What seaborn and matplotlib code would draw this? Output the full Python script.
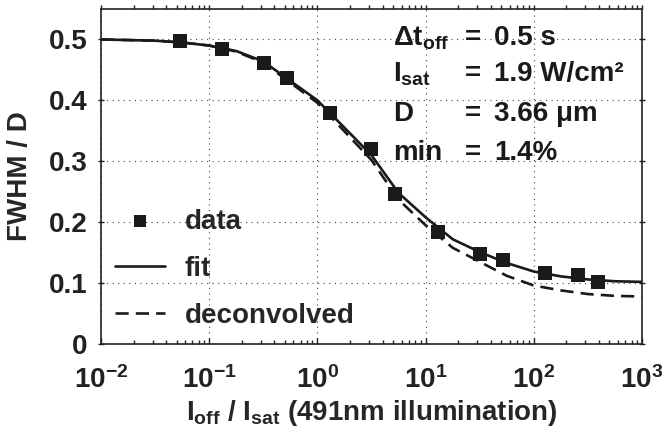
import numpy as np
import pandas as pd
import matplotlib
matplotlib.use("Agg")
import matplotlib.pyplot as plt
from matplotlib.ticker import FuncFormatter, LogLocator
import seaborn as sns

# measured points (I_off / I_sat, FWHM / D)
data_x = [0.054, 0.13, 0.32, 0.52, 1.31, 3.16, 5.2, 13, 32, 52, 128, 257, 390]
data_y = [0.498, 0.484, 0.462, 0.436, 0.380, 0.320, 0.246, 0.184, 0.148, 0.138, 0.116, 0.113, 0.102]

# curves at quarter decades
curve_x = [0.01, 0.0178, 0.0316, 0.0562, 0.1, 0.178, 0.316, 0.562, 1.0, 1.78, 3.16, 5.62,
           10, 17.8, 31.6, 56.2, 100, 178, 316, 562, 1000]
fit_y = [0.500, 0.499, 0.498, 0.495, 0.490, 0.481, 0.464, 0.432, 0.400, 0.355, 0.310, 0.248,
         0.208, 0.172, 0.151, 0.133, 0.119, 0.111, 0.106, 0.103, 0.102]
deconv_y = [0.500, 0.499, 0.498, 0.495, 0.490, 0.480, 0.462, 0.429, 0.396, 0.349, 0.302, 0.237,
            0.195, 0.158, 0.135, 0.112, 0.096, 0.088, 0.082, 0.079, 0.078]

sns.set_style("ticks")
plt.rcParams["font.family"] = ["Liberation Sans", "DejaVu Sans"]
plt.rcParams["font.weight"] = "bold"
plt.rcParams["axes.labelweight"] = "bold"
plt.rcParams["mathtext.fontset"] = "custom"
plt.rcParams["mathtext.rm"] = "Liberation Sans:bold"
plt.rcParams["mathtext.it"] = "Liberation Sans:bold"
plt.rcParams["mathtext.bf"] = "Liberation Sans:bold"
plt.rcParams["mathtext.sf"] = "Liberation Sans:bold"
plt.rcParams["mathtext.default"] = "rm"

ink = "#1a1a1a"
fs = 20

fig = plt.figure(figsize=(6.62, 4.34), dpi=100)
ax = fig.add_axes([101 / 662, 90 / 434, 541 / 662, 335 / 434])

df_data = pd.DataFrame({"x": data_x, "y": data_y})
df_curve = pd.DataFrame({"x": curve_x, "fit": fit_y, "deconvolved": deconv_y})

sns.lineplot(data=df_curve, x="x", y="fit", ax=ax, color=ink, lw=1.9, label="fit", zorder=3)
sns.lineplot(data=df_curve, x="x", y="deconvolved", ax=ax, color=ink, lw=1.9,
             dashes=False, label="deconvolved", zorder=3)
ax.lines[-1].set_dashes((5, 2.7))
sns.scatterplot(data=df_data, x="x", y="y", ax=ax, marker="s", s=95, color=ink,
                edgecolor=ink, linewidth=0, label="data", zorder=4)

ax.set_xscale("log")
ax.set_xlim(1e-2, 1e3)
ax.set_ylim(0, 0.55)
ax.set_yticks([0, 0.1, 0.2, 0.3, 0.4, 0.5])
ax.yaxis.set_major_formatter(FuncFormatter(lambda v, p: "%g" % v))
ax.xaxis.set_major_locator(LogLocator(base=10, numticks=10))
ax.xaxis.set_minor_locator(LogLocator(base=10, subs=np.arange(2, 10), numticks=20))

ax.grid(True, which="major", linestyle=(0, (1, 4)), color="#444444", lw=0.8)
for s in ax.spines.values():
    s.set_linewidth(1.2)
    s.set_color("#222222")
    s.set_visible(True)

ax.tick_params(axis="x", which="both", direction="in", top=False, labelsize=fs,
               colors="#222222", labelcolor="#222222", pad=16)
ax.tick_params(axis="x", which="major", length=4, width=1)
ax.tick_params(axis="x", which="minor", length=3, width=1)
ax.tick_params(axis="y", which="both", direction="inout", left=True, right=True,
               length=5, width=1, labelsize=fs, colors="#222222", labelcolor="#222222", pad=7)
top = ax.secondary_xaxis("top")
top.tick_params(axis="x", which="both", direction="out", labeltop=False, length=3, width=1,
                colors="#222222")
top.xaxis.set_minor_locator(LogLocator(base=10, subs=np.arange(2, 10), numticks=20))
top.spines["top"].set_visible(False)

ax.set_xlabel(r"$\mathregular{I_{off}}$ / $\mathregular{I_{sat}}$ (491nm illumination)",
              fontsize=fs, fontweight="bold")
ax.xaxis.set_label_coords(0.5, -0.16)
ax.set_ylabel("FWHM / D", fontsize=fs, fontweight="bold")
ax.yaxis.set_label_coords(-0.126, 0.5)

# parameter block
rows = [(r"$\Delta\mathregular{t_{off}}$", "0.5 s"),
        (r"$\mathregular{I_{sat}}$", "1.9 W/cm²"),
        ("D", "3.66 μm"),
        ("min", "1.4%")]
ys = [0.912, 0.806, 0.688, 0.571]
for (lab, val), yy in zip(rows, ys):
    ax.text(0.540, yy, lab, transform=ax.transAxes, fontsize=fs, fontweight="bold",
            va="center", ha="left", color=ink)
    ax.text(0.672, yy, "=", transform=ax.transAxes, fontsize=fs, fontweight="bold",
            va="center", ha="left", color=ink)
    ax.text(0.727, yy, val, transform=ax.transAxes, fontsize=fs, fontweight="bold",
            va="center", ha="left", color=ink)

h, l = ax.get_legend_handles_labels()
order = [l.index("data"), l.index("fit"), l.index("deconvolved")]
leg = ax.legend([h[i] for i in order], [l[i] for i in order], loc="lower left",
                bbox_to_anchor=(0.026, 0.045), frameon=False,
                prop={"weight": "bold", "size": fs}, handlelength=1.8,
                handletextpad=0.7, labelspacing=0.76, borderpad=0, borderaxespad=0,
                markerscale=0.85)

fig.savefig("out.png", dpi=100)
